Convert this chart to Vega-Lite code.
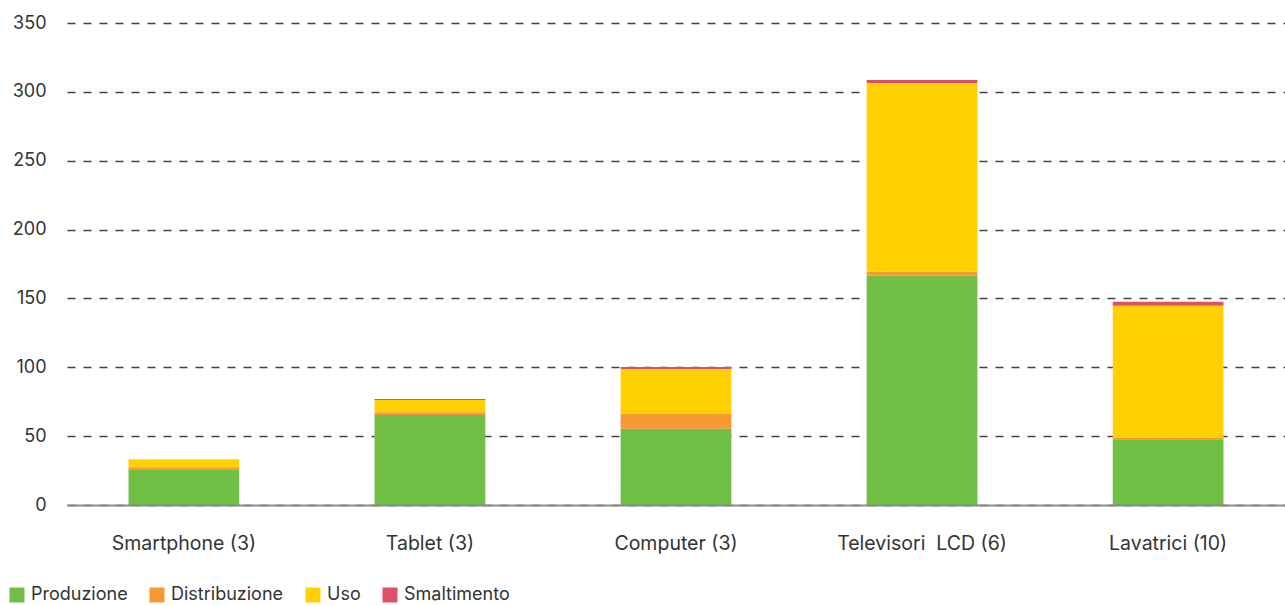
{
  "$schema": "https://vega.github.io/schema/vega-lite/v6.json",
  "width": 1218,
  "height": 482,
  "autosize": {"type": "none"},
  "padding": {"left": 67, "top": 23, "right": 0, "bottom": 100},
  "background": "white",
  "data": {
    "values": [
      {"prodotto": "Smartphone (3)", "fase": "Produzione", "ord": 1, "valore": 26},
      {"prodotto": "Smartphone (3)", "fase": "Distribuzione", "ord": 2, "valore": 1.5},
      {"prodotto": "Smartphone (3)", "fase": "Uso", "ord": 3, "valore": 5.8},
      {"prodotto": "Smartphone (3)", "fase": "Smaltimento", "ord": 4, "valore": 0},
      {"prodotto": "Tablet (3)", "fase": "Produzione", "ord": 1, "valore": 65.3},
      {"prodotto": "Tablet (3)", "fase": "Distribuzione", "ord": 2, "valore": 2.1},
      {"prodotto": "Tablet (3)", "fase": "Uso", "ord": 3, "valore": 8.8},
      {"prodotto": "Tablet (3)", "fase": "Smaltimento", "ord": 4, "valore": 0.7},
      {"prodotto": "Computer (3)", "fase": "Produzione", "ord": 1, "valore": 55.4},
      {"prodotto": "Computer (3)", "fase": "Distribuzione", "ord": 2, "valore": 10.7},
      {"prodotto": "Computer (3)", "fase": "Uso", "ord": 3, "valore": 32.7},
      {"prodotto": "Computer (3)", "fase": "Smaltimento", "ord": 4, "valore": 1.4},
      {"prodotto": "Televisori\u00a0 LCD (6)", "fase": "Produzione", "ord": 1, "valore": 166.4},
      {"prodotto": "Televisori\u00a0 LCD (6)", "fase": "Distribuzione", "ord": 2, "valore": 3},
      {"prodotto": "Televisori\u00a0 LCD (6)", "fase": "Uso", "ord": 3, "valore": 137.1},
      {"prodotto": "Televisori\u00a0 LCD (6)", "fase": "Smaltimento", "ord": 4, "valore": 2.2},
      {"prodotto": "Lavatrici (10)", "fase": "Produzione", "ord": 1, "valore": 47.8},
      {"prodotto": "Lavatrici (10)", "fase": "Distribuzione", "ord": 2, "valore": 1},
      {"prodotto": "Lavatrici (10)", "fase": "Uso", "ord": 3, "valore": 95.9},
      {"prodotto": "Lavatrici (10)", "fase": "Smaltimento", "ord": 4, "valore": 2.9}
    ]
  },
  "mark": {"type": "bar"},
  "encoding": {
    "x": {
      "field": "prodotto",
      "type": "nominal",
      "sort": null,
      "scale": {"paddingInner": 0.55, "paddingOuter": 0.25},
      "axis": {
        "title": null,
        "labelAngle": 0,
        "ticks": false,
        "grid": false,
        "domainColor": "#888888",
        "domainWidth": 2,
        "labelFont": "Inter",
        "labelFontSize": 19.5,
        "labelColor": "#333333",
        "labelPadding": 29,
        "zindex": 1
      }
    },
    "y": {
      "field": "valore",
      "type": "quantitative",
      "stack": "zero",
      "scale": {"domain": [0, 350], "nice": false},
      "axis": {
        "title": null,
        "values": [0, 50, 100, 150, 200, 250, 300, 350],
        "domain": false,
        "ticks": false,
        "labelPadding": 21,
        "labelFont": "Inter",
        "labelFontSize": 18,
        "labelColor": "#333333",
        "gridDash": [8, 8],
        "gridColor": "#444444",
        "gridWidth": 1.3
      }
    },
    "color": {
      "field": "fase",
      "type": "nominal",
      "sort": ["Produzione", "Distribuzione", "Uso", "Smaltimento"],
      "scale": {
        "domain": ["Produzione", "Distribuzione", "Uso", "Smaltimento"],
        "range": ["#70BF44", "#F79933", "#FFD100", "#DE5164"]
      },
      "legend": {
        "orient": "none",
        "legendX": -59,
        "legendY": 563,
        "direction": "horizontal",
        "title": null,
        "padding": 0,
        "symbolType": "square",
        "symbolSize": 225,
        "symbolStrokeWidth": 0,
        "labelFont": "Inter",
        "labelFontSize": 18,
        "labelColor": "#333333",
        "labelOffset": 5,
        "columnPadding": 20
      }
    },
    "order": {"field": "ord", "type": "quantitative"}
  },
  "config": {"view": {"stroke": null}}
}
